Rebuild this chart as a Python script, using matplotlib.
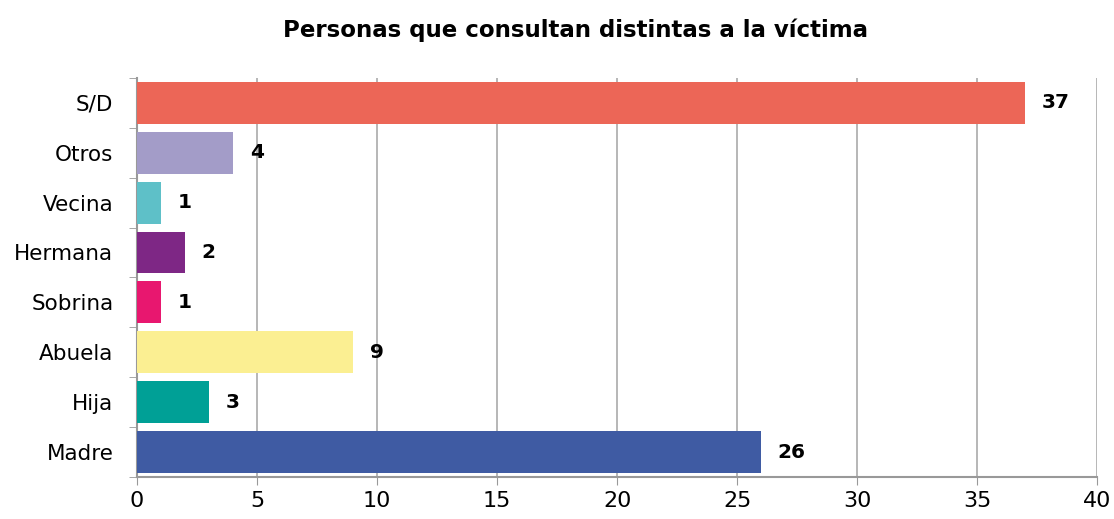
import matplotlib
matplotlib.use("Agg")
import matplotlib.pyplot as plt
import numpy as np

categorias = ["Madre", "Hija", "Abuela", "Sobrina", "Hermana", "Vecina", "Otros", "S/D"]
valores = [26, 3, 9, 1, 2, 1, 4, 37]
colores = ["#3F5BA3", "#00A096", "#FBEF92", "#E8176F", "#7E2785", "#5EC0C8", "#A39CC8", "#EC6657"]
titulo = "Personas que consultan distintas a la víctima"
xticks = [0, 5, 10, 15, 20, 25, 30, 35, 40]

fig = plt.figure(figsize=(11.14, 5.19), dpi=100)
ax = fig.add_axes([0.123, 0.081, 0.862, 0.769])

y = np.arange(len(categorias))
ax.barh(y, valores, height=0.84, color=colores, zorder=3)
for yi, v in zip(y, valores):
    ax.annotate(str(v), (v, yi), xytext=(12, 0), textcoords="offset points",
                va="center", ha="left", fontsize=14.5, fontweight="bold", color="black")

ax.set_xlim(0, 40)
ax.set_ylim(-0.5, len(categorias) - 0.5)
ax.set_xticks(xticks)
ax.set_yticks(y)
ax.set_yticklabels(categorias)
ax.set_yticks(np.arange(-0.5, len(categorias), 1), minor=True)
ax.tick_params(axis="y", which="major", length=0, labelsize=15.5, pad=17)
ax.tick_params(axis="y", which="minor", length=6, color="#999999", direction="out")
ax.tick_params(axis="x", which="major", length=6, color="#999999", labelsize=16, pad=4)
ax.grid(axis="x", color="#AAAAAA", linewidth=1.2, zorder=0)
for s in ["top", "right"]:
    ax.spines[s].set_visible(False)
for s in ["left", "bottom"]:
    ax.spines[s].set_color("#999999")
    ax.spines[s].set_linewidth(1.5)

fig.suptitle(titulo, x=0.517, y=0.965, fontsize=16.5, fontweight="bold",
             family=["Liberation Sans Narrow", "DejaVu Sans"])
fig.savefig("out.png", dpi=100)
